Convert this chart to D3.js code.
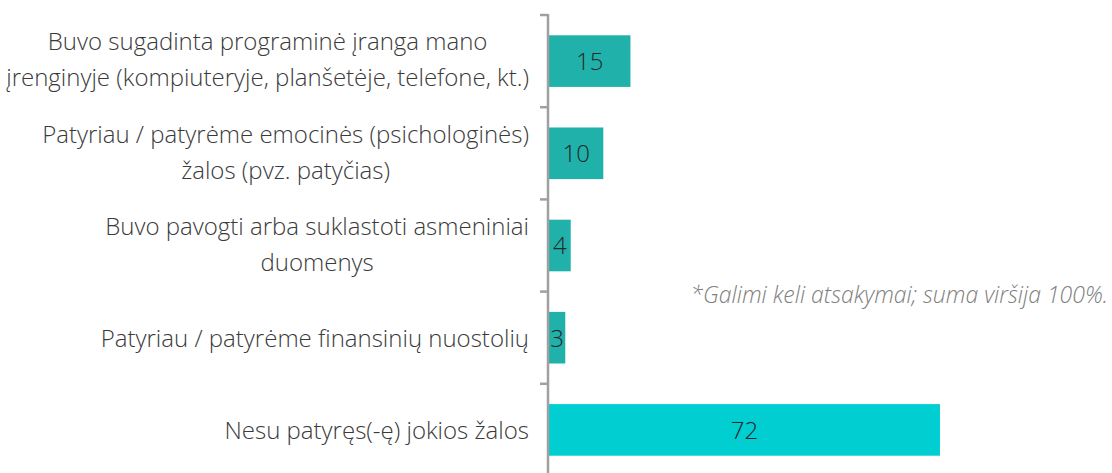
<!DOCTYPE html>
<html>
<head>
<meta charset="utf-8">
<script src="https://cdn.jsdelivr.net/npm/d3@7"></script>
<style>
  body { margin: 0; background: #fff; }
  text { font-family: "Open Sans", "Segoe UI", sans-serif; font-weight: 300; }
</style>
</head>
<body>
<div id="wrapper"></div>
<script>
const categories = [
    ["Buvo sugadinta programinė įranga mano", "įrenginyje (kompiuteryje, planšetėje, telefone, kt.)"],
    ["Patyriau / patyrėme emocinės (psichologinės)", "žalos (pvz. patyčias)"],
    ["Buvo pavogti arba suklastoti asmeniniai", "duomenys"],
    ["Patyriau / patyrėme  finansinių nuostolių"],
    ["Nesu patyręs(-ę) jokios žalos"]
];
const values = [15, 10, 4, 3, 72];
const barColors = ["#20b2aa", "#20b2aa", "#20b2aa", "#20b2aa", "#00ced1"];
const note = "*Galimi keli atsakymai; suma viršija 100%.";

const dimension = { width: 1112, height: 473 };
const axisX = 549;

const svg = d3.select("#wrapper").append("svg")
    .attr("width", dimension.width)
    .attr("height", dimension.height);

const keys = categories.map((c, i) => i);

const yScaler = d3.scaleBand()
    .domain(keys)
    .range([15, 476])
    .paddingInner(0.44)
    .paddingOuter(0.22);

const xScaler = d3.scaleLinear()
    .domain([0, 80])
    .range([axisX, axisX + 80 * 5.43]);

// bars
svg.append("g").selectAll("rect")
    .data(values)
    .join("rect")
    .attr("x", xScaler(0))
    .attr("y", (d, i) => yScaler(i))
    .attr("width", d => xScaler(d) - xScaler(0))
    .attr("height", yScaler.bandwidth())
    .attr("fill", (d, i) => barColors[i]);

// value labels
svg.append("g").selectAll("text")
    .data(values)
    .join("text")
    .attr("x", d => (xScaler(d) + xScaler(0)) / 2)
    .attr("y", (d, i) => yScaler(i) + yScaler.bandwidth() / 2)
    .attr("dy", "0.37em")
    .attr("text-anchor", "middle")
    .attr("font-size", 24)
    .attr("fill", "#262626")
    .text(d => d);

// axis line and ticks at band boundaries
const step = yScaler.step();
const bandTop = yScaler.range()[0];
svg.append("line")
    .attr("x1", axisX - 1).attr("x2", axisX - 1)
    .attr("y1", bandTop - 1).attr("y2", dimension.height)
    .attr("stroke", "#a0a0a0").attr("stroke-width", 2.5);
svg.append("g").selectAll("line")
    .data(d3.range(keys.length))
    .join("line")
    .attr("x1", axisX - 9).attr("x2", axisX - 1)
    .attr("y1", i => bandTop + i * step).attr("y2", i => bandTop + i * step)
    .attr("stroke", "#a0a0a0").attr("stroke-width", 2.5);

// category labels: block right-aligned, lines centered within block
const lineH = 36;
const labelRight = 529;
categories.forEach((lines, i) => {
    const cy = yScaler(i) + yScaler.bandwidth() / 2;
    const g = svg.append("g");
    const texts = g.selectAll("text")
        .data(lines)
        .join("text")
        .attr("font-size", 24)
        .attr("fill", "#3a3a3a")
        .attr("text-anchor", "middle")
        .attr("y", (d, j) => cy + (j - (lines.length - 1) / 2) * lineH)
        .attr("dy", lines.length > 1 ? "0.3em" : "0.38em")
        .text(d => d);
    const w = d3.max(texts.nodes(), n => n.getComputedTextLength());
    texts.attr("x", labelRight - w / 2);
});

svg.append("text")
    .attr("x", 1108)
    .attr("y", 303)
    .attr("text-anchor", "end")
    .attr("font-size", 23)
    .attr("font-style", "italic")
    .attr("fill", "#808080")
    .text(note);
</script>
</body>
</html>
